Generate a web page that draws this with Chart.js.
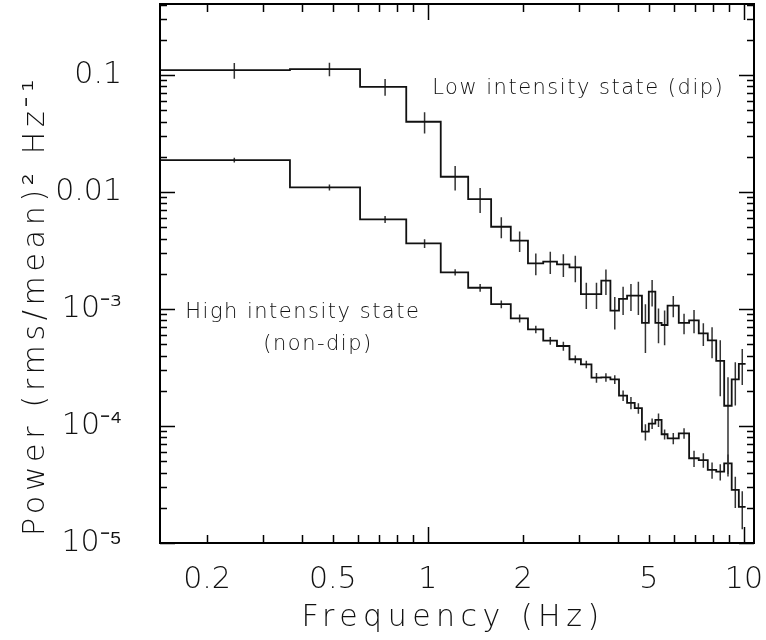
<!DOCTYPE html>
<html>
<head>
<meta charset="utf-8">
<script src="https://cdn.jsdelivr.net/npm/chart.js@4.4.1/dist/chart.umd.min.js"></script>
<style>
  html, body { margin: 0; padding: 0; background: #fff; }
  canvas { display: block; }
</style>
</head>
<body>
<canvas id="psd" width="766" height="640"></canvas>
<script>
// bin edges (Hz): 0.244 Hz bins up to 5.73 Hz, doubled above that
const binEdges = [0.122, 0.366, 0.610, 0.854, 1.098, 1.341, 1.585, 1.829, 2.073,
  2.317, 2.561, 2.805, 3.049, 3.293, 3.537, 3.780, 4.024, 4.268, 4.512, 4.756,
  5.000, 5.244, 5.488, 5.732, 6.220, 6.707, 7.195, 7.683, 8.171, 8.659, 9.146,
  9.634, 10.122];

// low intensity state (dip)
const dipPower = [0.110, 0.1125, 0.0794, 0.0399, 0.01351, 0.00871, 0.00505, 0.00384,
  0.00246, 0.00254, 0.00241, 0.00227, 0.00134, 0.00134, 0.00175, 0.00097, 0.00122,
  0.00130, 0.00130, 0.00076, 0.00141, 0.00076, 0.00073, 0.00107, 0.00076, 0.00080,
  0.00062, 0.00054, 0.00036, 0.000149, 0.00025, 0.00034];
const dipError = [0.017, 0.015, 0.013, 0.0082, 0.0032, 0.0021, 0.00103, 0.00076,
  0.00052, 0.00055, 0.00053, 0.00058, 0.00034, 0.00034, 0.00043, 0.0003, 0.00033,
  0.00034, 0.00041, 0.00034, 0.00036, 0.00025, 0.00024, 0.00022, 0.00015, 0.00018,
  0.000136, 0.00016, 0.00018, 0.000112, 0.0001, 0.000116];

// high intensity state (non-dip)
const nonDipPower = [0.01877, 0.01097, 0.00584, 0.00364, 0.00206, 0.00152, 0.00110,
  0.000833, 0.000671, 0.000536, 0.000483, 0.000372, 0.000337, 0.000259, 0.000261,
  0.000250, 0.000182, 0.000158, 0.000142, 0.0000894, 0.000105, 0.000113, 0.0000850,
  0.0000785, 0.0000866, 0.0000530, 0.0000512, 0.0000421, 0.0000407, 0.0000480,
  0.0000284, 0.0000204];
const nonDipError = [0.0009, 0.00065, 0.00039, 0.00031, 0.000126, 0.000114, 0.000082,
  0.000065, 0.000050, 0.000041, 0.000042, 0.000028, 0.000025, 0.000025, 0.000022,
  0.000021, 0.0000187, 0.000019, 0.0000146, 0.0000142, 0.0000108, 0.0000149,
  0.0000082, 0.0000087, 0.0000089, 0.0000084, 0.0000073, 0.0000067, 0.0000065,
  0.0000091, 0.0000085, 0.0000073];

const xTickValues = [0.2, 0.5, 1, 2, 5, 10];
const xTickLabels = ["0.2", "0.5", "1", "2", "5", "10"];
const yTickValues = [1e-5, 1e-4, 1e-3, 0.01, 0.1];
const yTickLabels = ["10\u207B\u2075", "10\u207B\u2074", "10\u207B\u00B3", "0.01", "0.1"];

// text labels placed in data coordinates: [text, frequency, power]
const annotations = [
  ["Low intensity state (dip)", 2.99, 0.0689],
  ["High intensity state", 0.402, 8.46e-4],
  ["(non-dip)", 0.449, 4.46e-4],
];

const FONT = "'DejaVu Sans', sans-serif";
const INK = "#111";

function stepPoints(values) {
  const pts = [];
  values.forEach((v, i) => {
    pts.push({ x: binEdges[i], y: v }, { x: binEdges[i + 1], y: v });
  });
  return pts;
}

function errorPoints(values, errors) {
  const pts = [];
  values.forEach((v, i) => {
    const f = (binEdges[i] + binEdges[i + 1]) / 2;
    pts.push({ x: f, y: v - errors[i] }, { x: f, y: v + errors[i] }, { x: f, y: null });
  });
  return pts;
}

function decadeTicks(lo, hi) {
  const major = [], minor = [];
  for (let d = -6; d <= 2; d++) {
    for (let m = 1; m <= 9; m++) {
      const v = m * Math.pow(10, d);
      if (v < lo || v > hi) continue;
      (m === 1 ? major : minor).push(v);
    }
  }
  return { major, minor };
}

// wider letter spacing on the axis titles, nudged along the axis
function spacedTitle(scale, spacing, dx, dy) {
  if (scale._spaced) return;
  const orig = scale.drawTitle;
  scale.drawTitle = function () {
    this.ctx.save();
    this.ctx.letterSpacing = spacing;
    this.ctx.translate(dx, dy);
    orig.apply(this, arguments);
    this.ctx.restore();
  };
  scale._spaced = true;
}

const framePlugin = {
  id: "frame",
  beforeDraw(chart) {
    spacedTitle(chart.scales.x, "5.5px", -4, 0);
    spacedTitle(chart.scales.y, "4.7px", 0, 32);
  },
  afterDatasetsDraw(chart) {
    const { ctx, chartArea: a, scales } = chart;
    const xs = scales.x, ys = scales.y;
    const xt = decadeTicks(xs.min, xs.max);
    const yt = decadeTicks(ys.min, ys.max);
    ctx.save();
    ctx.strokeStyle = "#000";
    ctx.lineWidth = 1.5;
    ctx.beginPath();
    const vtick = (v, len) => {
      const p = Math.round(xs.getPixelForValue(v)) + 0.5;
      ctx.moveTo(p, a.bottom); ctx.lineTo(p, a.bottom - len);
      ctx.moveTo(p, a.top); ctx.lineTo(p, a.top + len);
    };
    const htick = (v, len) => {
      const p = Math.round(ys.getPixelForValue(v)) + 0.5;
      ctx.moveTo(a.left, p); ctx.lineTo(a.left + len, p);
      ctx.moveTo(a.right, p); ctx.lineTo(a.right - len, p);
    };
    xt.major.forEach(v => vtick(v, 16));
    xt.minor.forEach(v => vtick(v, 8));
    yt.major.forEach(v => htick(v, 15));
    yt.minor.forEach(v => htick(v, 7));
    ctx.stroke();
    ctx.lineWidth = 2;
    ctx.strokeRect(a.left, a.top, a.right - a.left, a.bottom - a.top);

    ctx.fillStyle = INK;
    ctx.font = "200 21px " + FONT;
    ctx.letterSpacing = "1.5px";
    ctx.textAlign = "center";
    ctx.textBaseline = "alphabetic";
    annotations.forEach(([text, f, p]) => {
      ctx.fillText(text, xs.getPixelForValue(f), ys.getPixelForValue(p));
    });
    ctx.restore();
  },
};

const axisFont = { family: FONT, size: 30, weight: 200 };

new Chart(document.getElementById("psd"), {
  type: "scatter",
  data: {
    datasets: [
      {
        label: "Low intensity state (dip)",
        data: stepPoints(dipPower),
        showLine: true,
        borderColor: INK,
        borderWidth: 1.8,
        pointRadius: 0,
      },
      {
        label: "dip errors",
        data: errorPoints(dipPower, dipError),
        showLine: true,
        spanGaps: false,
        borderColor: "#333",
        borderWidth: 1.5,
        pointRadius: 0,
      },
      {
        label: "High intensity state (non-dip)",
        data: stepPoints(nonDipPower),
        showLine: true,
        borderColor: INK,
        borderWidth: 1.8,
        pointRadius: 0,
      },
      {
        label: "non-dip errors",
        data: errorPoints(nonDipPower, nonDipError),
        showLine: true,
        spanGaps: false,
        borderColor: "#333",
        borderWidth: 1.5,
        pointRadius: 0,
      },
    ],
  },
  options: {
    responsive: false,
    animation: false,
    layout: {
      autoPadding: false,
      padding: { left: 0, right: 12, top: 4, bottom: 0 },
    },
    plugins: {
      legend: { display: false },
      tooltip: { enabled: false },
    },
    scales: {
      x: {
        type: "logarithmic",
        min: 0.142,
        max: 10.76,
        grid: { display: false },
        border: { display: false },
        afterBuildTicks: (s) => { s.ticks = xTickValues.map(v => ({ value: v })); },
        afterFit: (s) => {
          s.height = 97;
          s.paddingLeft = 0;
          s.paddingRight = 0;
        },
        ticks: {
          autoSkip: false,
          maxRotation: 0,
          padding: 11,
          color: INK,
          font: axisFont,
          callback: (v) => xTickLabels[xTickValues.indexOf(v)],
        },
        title: {
          display: true,
          text: "Frequency (Hz)",
          color: INK,
          font: axisFont,
          padding: { top: 0, bottom: 4 },
        },
      },
      y: {
        type: "logarithmic",
        min: 1e-5,
        max: 0.405,
        grid: { display: false },
        border: { display: false },
        afterBuildTicks: (s) => { s.ticks = yTickValues.map(v => ({ value: v })); },
        afterFit: (s) => {
          s.width = 160;
          s.paddingTop = 0;
          s.paddingBottom = 0;
        },
        ticks: {
          autoSkip: false,
          padding: 30,
          color: INK,
          font: axisFont,
          callback: (v) => yTickLabels[yTickValues.indexOf(v)],
        },
        title: {
          display: true,
          text: "Power (rms/mean)\u00B2 Hz\u207B\u00B9",
          color: INK,
          font: axisFont,
          padding: { top: 18, bottom: 0 },
        },
      },
    },
  },
  plugins: [framePlugin],
});
</script>
</body>
</html>
